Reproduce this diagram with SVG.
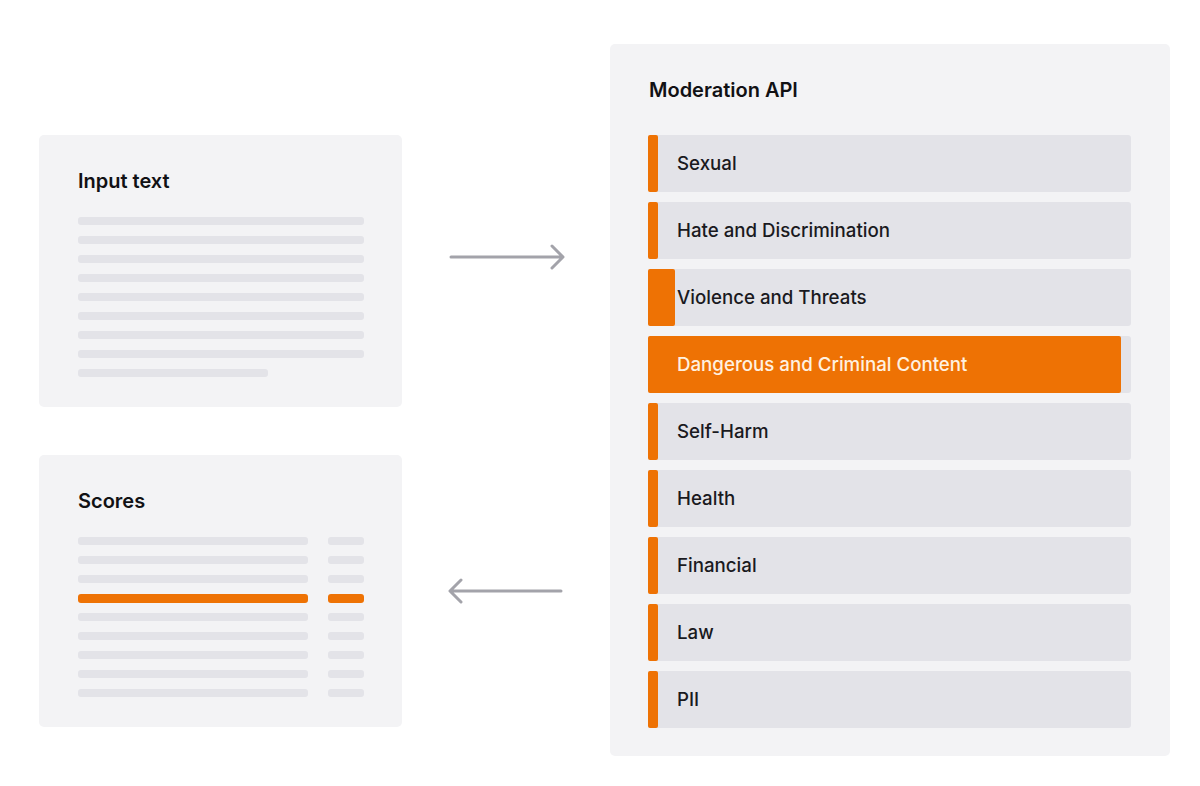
<svg xmlns="http://www.w3.org/2000/svg" width="1200" height="786" viewBox="0 0 1200 786">
<defs>
<style>
.panel{fill:#f3f3f5}
.ln{fill:#e3e3e8}
.hl{fill:#ee7204}
.row{fill:#e3e3e8}
.title{font-family:Inter,"Liberation Sans",sans-serif;font-size:20px;font-weight:600;fill:#111114}
.lbl{font-family:Inter,"Liberation Sans",sans-serif;font-size:18.7px;font-weight:500;fill:#1a1a1e}
.lblw{font-family:Inter,"Liberation Sans",sans-serif;font-size:18.7px;font-weight:500;fill:#fff1e0}
.conn{stroke:#a3a3aa;stroke-width:3;fill:none;stroke-linecap:round;stroke-linejoin:round}
</style>
</defs>
<rect width="1200" height="786" fill="#ffffff"/>
<g id="input-text">
<rect class="panel" x="39" y="135" width="363" height="272" rx="5"/>
<text class="title" x="78" y="188">Input text</text>
<rect class="ln" x="78" y="217" width="286" height="8" rx="3"/>
<rect class="ln" x="78" y="236" width="286" height="8" rx="3"/>
<rect class="ln" x="78" y="255" width="286" height="8" rx="3"/>
<rect class="ln" x="78" y="274" width="286" height="8" rx="3"/>
<rect class="ln" x="78" y="293" width="286" height="8" rx="3"/>
<rect class="ln" x="78" y="312" width="286" height="8" rx="3"/>
<rect class="ln" x="78" y="331" width="286" height="8" rx="3"/>
<rect class="ln" x="78" y="350" width="286" height="8" rx="3"/>
<rect class="ln" x="78" y="369" width="190" height="8" rx="3"/>
</g>
<g id="scores">
<rect class="panel" x="39" y="455" width="363" height="272" rx="5"/>
<text class="title" x="78" y="508">Scores</text>
<rect class="ln" x="78" y="537" width="230" height="8" rx="3"/><rect class="ln" x="328" y="537" width="36" height="8" rx="3"/>
<rect class="ln" x="78" y="556" width="230" height="8" rx="3"/><rect class="ln" x="328" y="556" width="36" height="8" rx="3"/>
<rect class="ln" x="78" y="575" width="230" height="8" rx="3"/><rect class="ln" x="328" y="575" width="36" height="8" rx="3"/>
<rect class="hl" x="78" y="594" width="230" height="9" rx="3"/><rect class="hl" x="328" y="594" width="36" height="9" rx="3"/>
<rect class="ln" x="78" y="613" width="230" height="8" rx="3"/><rect class="ln" x="328" y="613" width="36" height="8" rx="3"/>
<rect class="ln" x="78" y="632" width="230" height="8" rx="3"/><rect class="ln" x="328" y="632" width="36" height="8" rx="3"/>
<rect class="ln" x="78" y="651" width="230" height="8" rx="3"/><rect class="ln" x="328" y="651" width="36" height="8" rx="3"/>
<rect class="ln" x="78" y="670" width="230" height="8" rx="3"/><rect class="ln" x="328" y="670" width="36" height="8" rx="3"/>
<rect class="ln" x="78" y="689" width="230" height="8" rx="3"/><rect class="ln" x="328" y="689" width="36" height="8" rx="3"/>
</g>
<g id="moderation-api">
<rect class="panel" x="610" y="44" width="560" height="712" rx="5"/>
<text class="title" x="649" y="97">Moderation API</text>
<g id="cat-sexual"><rect class="row" x="648" y="135" width="483" height="57" rx="3"/><rect class="hl" x="648" y="135" width="10" height="57" rx="2"/><text class="lbl" x="677" y="170">Sexual</text></g>
<g id="cat-hate"><rect class="row" x="648" y="202" width="483" height="57" rx="3"/><rect class="hl" x="648" y="202" width="10" height="57" rx="2"/><text class="lbl" x="677" y="237">Hate and Discrimination</text></g>
<g id="cat-violence"><rect class="row" x="648" y="269" width="483" height="57" rx="3"/><rect class="hl" x="648" y="269" width="27" height="57" rx="2"/><text class="lbl" x="677" y="304">Violence and Threats</text></g>
<g id="cat-dangerous"><rect class="row" x="648" y="336" width="483" height="57" rx="3"/><rect class="hl" x="648" y="336" width="473" height="57" rx="2"/><text class="lblw" x="677" y="371">Dangerous and Criminal Content</text></g>
<g id="cat-selfharm"><rect class="row" x="648" y="403" width="483" height="57" rx="3"/><rect class="hl" x="648" y="403" width="10" height="57" rx="2"/><text class="lbl" x="677" y="438">Self-Harm</text></g>
<g id="cat-health"><rect class="row" x="648" y="470" width="483" height="57" rx="3"/><rect class="hl" x="648" y="470" width="10" height="57" rx="2"/><text class="lbl" x="677" y="505">Health</text></g>
<g id="cat-financial"><rect class="row" x="648" y="537" width="483" height="57" rx="3"/><rect class="hl" x="648" y="537" width="10" height="57" rx="2"/><text class="lbl" x="677" y="572">Financial</text></g>
<g id="cat-law"><rect class="row" x="648" y="604" width="483" height="57" rx="3"/><rect class="hl" x="648" y="604" width="10" height="57" rx="2"/><text class="lbl" x="677" y="639">Law</text></g>
<g id="cat-pii"><rect class="row" x="648" y="671" width="483" height="57" rx="3"/><rect class="hl" x="648" y="671" width="10" height="57" rx="2"/><text class="lbl" x="677" y="706">PII</text></g>
</g>
<g id="connectors">
<path class="conn" d="M451 257 H562 M552 246 L563 257 L552 268"/>
<path class="conn" d="M561 591 H451 M461 580 L450 591 L461 602"/>
</g>
</svg>
